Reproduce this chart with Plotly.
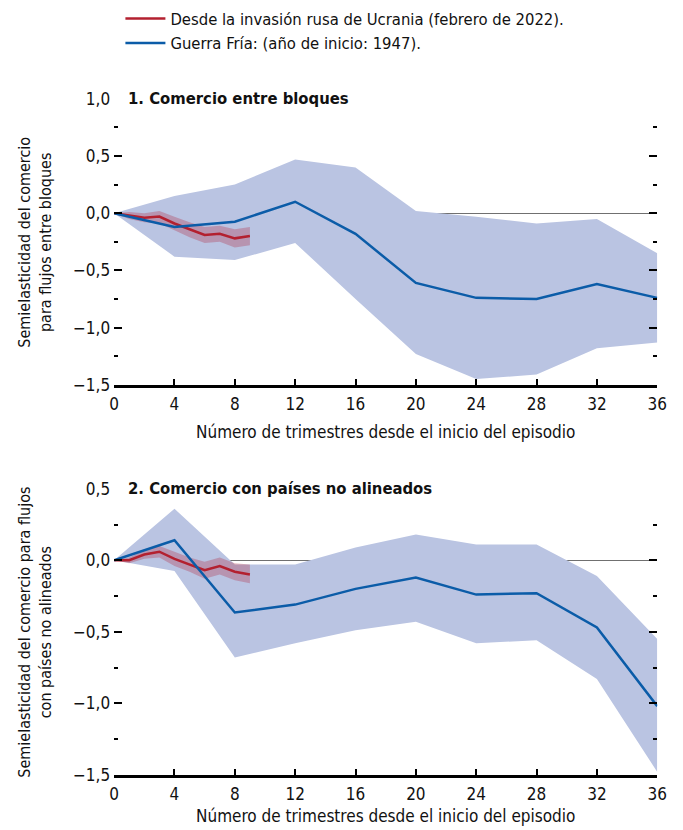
import plotly.graph_objects as go

# Quarters since the start of the episode
q_cold = [0, 4, 8, 12, 16, 20, 24, 28, 32, 36]
q_ukr = [0, 1, 2, 3, 4, 5, 6, 7, 8, 9]

# Panel 1: trade between blocs
cold1 = [0.0, -0.12, -0.075, 0.10, -0.18, -0.61, -0.74, -0.75, -0.62, -0.74]
cold1_hi = [0.0, 0.15, 0.25, 0.47, 0.40, 0.02, -0.03, -0.09, -0.05, -0.35]
cold1_lo = [0.0, -0.38, -0.41, -0.26, -0.75, -1.23, -1.45, -1.41, -1.18, -1.13]
ukr1 = [0.0, -0.02, -0.04, -0.03, -0.09, -0.14, -0.19, -0.18, -0.22, -0.20]
ukr1_hi = [0.0, 0.01, 0.0, 0.02, -0.03, -0.08, -0.12, -0.11, -0.14, -0.12]
ukr1_lo = [0.0, -0.05, -0.08, -0.09, -0.15, -0.21, -0.26, -0.25, -0.30, -0.28]

# Panel 2: trade with non-aligned countries
cold2 = [0.0, 0.14, -0.365, -0.31, -0.20, -0.12, -0.24, -0.23, -0.47, -1.02]
cold2_hi = [0.0, 0.36, -0.03, -0.03, 0.09, 0.18, 0.11, 0.11, -0.11, -0.55]
cold2_lo = [0.0, -0.075, -0.68, -0.58, -0.49, -0.43, -0.58, -0.56, -0.83, -1.48]
ukr2 = [0.0, 0.0, 0.04, 0.06, 0.01, -0.03, -0.07, -0.04, -0.08, -0.10]
ukr2_hi = [0.0, 0.02, 0.07, 0.10, 0.06, 0.02, -0.01, 0.02, -0.02, -0.03]
ukr2_lo = [0.0, -0.02, 0.01, 0.02, -0.04, -0.08, -0.13, -0.10, -0.14, -0.16]

x_ticks = [0, 4, 8, 12, 16, 20, 24, 28, 32, 36]

name_ukr = "Desde la invasión rusa de Ucrania (febrero de 2022)."
name_cold = "Guerra Fría: (año de inicio: 1947)."
panel_titles = ["<b>1. Comercio entre bloques</b>", "<b>2. Comercio con países no alineados</b>"]
y_titles = ["Semielasticidad del comercio<br>para flujos entre bloques",
            "Semielasticidad del comercio para flujos<br>con países no alineados"]
x_title = "Número de trimestres desde el inicio del episodio"

FONT = "Liberation Sans Narrow, DejaVu Sans Condensed, Arial Narrow, Liberation Sans, sans-serif"
BLUE = "#0b5ca8"
RED = "#b3202f"
BAND_BLUE = "#bac4e2"
BAND_RED = "rgba(175, 35, 60, 0.30)"

W, H = 683, 832
# Screen placement of the figure inside the page (scale and body offset)
SCALE, OFF_X, OFF_Y = 0.976, 5.1, 9.2


def fx(px):
    """Screen x pixel -> paper fraction."""
    return (px - OFF_X) / SCALE / W


def fy(px):
    """Screen y pixel (from top) -> paper fraction."""
    return 1 - (px - OFF_Y) / SCALE / H


fig = go.Figure()


def add_panel(xa, ya, cold, hi, lo, ukr, uhi, ulo, show_legend):
    fig.add_trace(go.Scatter(x=q_cold, y=hi, mode="lines", line=dict(width=0),
                             xaxis=xa, yaxis=ya, showlegend=False, hoverinfo="skip"))
    fig.add_trace(go.Scatter(x=q_cold, y=lo, mode="lines", line=dict(width=0),
                             fill="tonexty", fillcolor=BAND_BLUE,
                             xaxis=xa, yaxis=ya, showlegend=False, hoverinfo="skip"))
    fig.add_trace(go.Scatter(x=q_ukr, y=uhi, mode="lines", line=dict(width=0),
                             xaxis=xa, yaxis=ya, showlegend=False, hoverinfo="skip"))
    fig.add_trace(go.Scatter(x=q_ukr, y=ulo, mode="lines", line=dict(width=0),
                             fill="tonexty", fillcolor=BAND_RED,
                             xaxis=xa, yaxis=ya, showlegend=False, hoverinfo="skip"))
    fig.add_trace(go.Scatter(x=q_ukr, y=ukr, mode="lines", name=name_ukr,
                             line=dict(color=RED, width=2.5),
                             xaxis=xa, yaxis=ya, showlegend=show_legend))
    fig.add_trace(go.Scatter(x=q_cold, y=cold, mode="lines", name=name_cold,
                             line=dict(color=BLUE, width=2.5),
                             xaxis=xa, yaxis=ya, showlegend=show_legend))


add_panel("x", "y", cold1, cold1_hi, cold1_lo, ukr1, ukr1_hi, ukr1_lo, True)
add_panel("x2", "y2", cold2, cold2_hi, cold2_lo, ukr2, ukr2_hi, ukr2_lo, False)

x_dom = [fx(114), fx(656)]
y1_dom = [fy(384), fy(98)]
y2_dom = [fy(774), fy(488)]

xaxis_style = dict(
    range=[0, 36], tickvals=x_ticks, ticks="inside", ticklen=6, tickwidth=2,
    tickcolor="black", showline=True, linecolor="black", linewidth=2.5,
    showgrid=False, zeroline=False, tickfont=dict(size=17, color="#111"),
    ticklabelstandoff=2,
)
yaxis_style = dict(
    dtick=0.5, tickformat=".1f", ticks="inside", ticklen=8, tickwidth=2,
    tickcolor="black", mirror="ticks", showline=False, showgrid=False,
    zeroline=True, zerolinecolor="#707070", zerolinewidth=1.2,
    tickfont=dict(size=17, color="#111"), ticklabelstandoff=3,
    minor=dict(dtick=0.25, ticks="inside", ticklen=4, tickwidth=2, tickcolor="black",
               showgrid=False),
)

fig.update_layout(
    width=W, height=H,
    margin=dict(l=0, r=0, t=0, b=0),
    paper_bgcolor="white", plot_bgcolor="white",
    separators=",.",
    font=dict(family=FONT, size=16, color="#111"),
    xaxis=dict(domain=x_dom, anchor="y", **xaxis_style),
    yaxis=dict(domain=y1_dom, anchor="x", range=[-1.5, 1.0], **yaxis_style),
    xaxis2=dict(domain=x_dom, anchor="y2", **xaxis_style),
    yaxis2=dict(domain=y2_dom, anchor="x2", range=[-1.5, 0.5], **yaxis_style),
    showlegend=True,
    legend=dict(x=118 / W, y=1 + 9 / H, xanchor="left", yanchor="top",
                orientation="v", traceorder="normal",
                font=dict(size=16.5, color="#111"),
                bgcolor="rgba(0,0,0,0)", tracegroupgap=0, itemwidth=40),
)

annotations = []
for ttl, ya in zip(panel_titles, ["y", "y2"]):
    annotations.append(dict(text=ttl, xref="paper", x=fx(129) - 0.004, xanchor="left",
                            yref=f"{ya} domain", y=1, yanchor="middle",
                            showarrow=False, font=dict(size=16.5, color="#111")))
for ytxt, ya in zip(y_titles, ["y", "y2"]):
    annotations.append(dict(text=ytxt, xref="paper", x=fx(35), xanchor="center",
                            yref=f"{ya} domain", y=0.5, yanchor="middle",
                            textangle=-90, showarrow=False,
                            font=dict(size=16, color="#111")))
for ypx in [431, 815]:
    annotations.append(dict(text=x_title, xref="paper", x=fx((114 + 656) / 2),
                            xanchor="center", yref="paper", y=fy(ypx),
                            yanchor="middle", showarrow=False,
                            font=dict(size=17, color="#111")))
fig.update_layout(annotations=annotations)

fig.write_html("out.html")
